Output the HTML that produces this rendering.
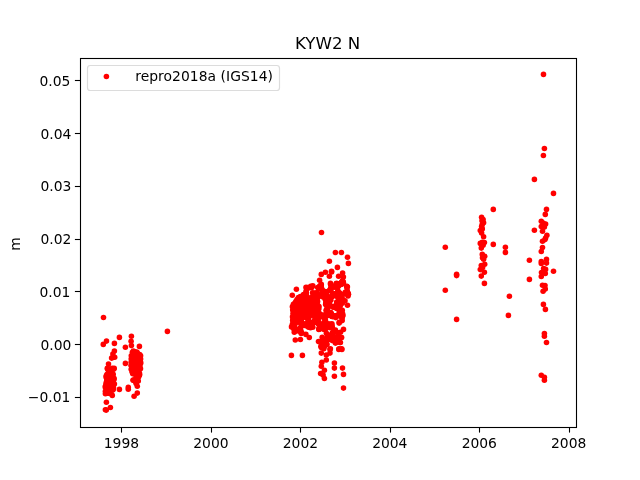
<!DOCTYPE html>
<html lang="en"><head><meta charset="utf-8"><title>KYW2 N</title>
<style>html,body{margin:0;padding:0;background:#fff;overflow:hidden}svg{display:block}text{font-family:'DejaVu Sans','Liberation Sans',sans-serif;fill:#000}</style></head>
<body>
<svg width="640" height="480" viewBox="0 0 640 480">
<rect width="640" height="480" fill="#fff"/>
<g stroke="#000" stroke-width="1.1">
<line x1="121.5" y1="427.5" x2="121.5" y2="432.6"/><line x1="211.5" y1="427.5" x2="211.5" y2="432.6"/><line x1="300.5" y1="427.5" x2="300.5" y2="432.6"/><line x1="390.5" y1="427.5" x2="390.5" y2="432.6"/><line x1="479.5" y1="427.5" x2="479.5" y2="432.6"/><line x1="569.5" y1="427.5" x2="569.5" y2="432.6"/><line x1="74.9" y1="80.5" x2="80.5" y2="80.5"/><line x1="74.9" y1="133.5" x2="80.5" y2="133.5"/><line x1="74.9" y1="186.5" x2="80.5" y2="186.5"/><line x1="74.9" y1="239.5" x2="80.5" y2="239.5"/><line x1="74.9" y1="291.5" x2="80.5" y2="291.5"/><line x1="74.9" y1="344.5" x2="80.5" y2="344.5"/><line x1="74.9" y1="397.5" x2="80.5" y2="397.5"/>
</g>
<g fill="#ff0000">
<circle cx="103.5" cy="317.5" r="2.78"/><circle cx="167.4" cy="331.4" r="2.78"/><circle cx="119.4" cy="337.4" r="2.78"/><circle cx="131.4" cy="336.3" r="2.78"/><circle cx="106.5" cy="341.1" r="2.78"/><circle cx="103.3" cy="344.4" r="2.78"/><circle cx="114.4" cy="343.4" r="2.78"/><circle cx="131.1" cy="341.2" r="2.78"/><circle cx="125.4" cy="347.3" r="2.78"/><circle cx="139.4" cy="346.4" r="2.78"/><circle cx="131.4" cy="345.6" r="2.78"/><circle cx="114.4" cy="351.0" r="2.78"/><circle cx="112.9" cy="354.0" r="2.78"/><circle cx="114.7" cy="357.3" r="2.78"/><circle cx="111.6" cy="358.1" r="2.78"/><circle cx="125.4" cy="363.4" r="2.78"/><circle cx="108.5" cy="364.1" r="2.78"/><circle cx="112.9" cy="357.5" r="2.78"/><circle cx="119.4" cy="389.4" r="2.78"/><circle cx="128.3" cy="387.4" r="2.78"/><circle cx="128.3" cy="389.2" r="2.78"/><circle cx="137.3" cy="386.3" r="2.78"/><circle cx="137.3" cy="393.1" r="2.78"/><circle cx="134.1" cy="396.3" r="2.78"/><circle cx="112.3" cy="395.4" r="2.78"/><circle cx="105.4" cy="393.8" r="2.78"/><circle cx="106.4" cy="402.3" r="2.78"/><circle cx="110.4" cy="407.5" r="2.78"/><circle cx="105.4" cy="409.8" r="2.78"/><circle cx="106.3" cy="410.1" r="2.78"/><circle cx="106.1" cy="390.7" r="2.78"/><circle cx="112.3" cy="375.0" r="2.78"/><circle cx="109.7" cy="380.2" r="2.78"/><circle cx="111.2" cy="389.2" r="2.78"/><circle cx="113.0" cy="379.7" r="2.78"/><circle cx="112.3" cy="368.3" r="2.78"/><circle cx="109.2" cy="387.4" r="2.78"/><circle cx="107.0" cy="393.3" r="2.78"/><circle cx="113.6" cy="369.0" r="2.78"/><circle cx="114.0" cy="378.3" r="2.78"/><circle cx="106.9" cy="379.4" r="2.78"/><circle cx="109.1" cy="381.4" r="2.78"/><circle cx="107.1" cy="374.3" r="2.78"/><circle cx="106.9" cy="380.4" r="2.78"/><circle cx="107.6" cy="368.8" r="2.78"/><circle cx="113.0" cy="383.0" r="2.78"/><circle cx="111.1" cy="373.1" r="2.78"/><circle cx="106.0" cy="377.0" r="2.78"/><circle cx="111.9" cy="387.1" r="2.78"/><circle cx="114.0" cy="379.4" r="2.78"/><circle cx="112.9" cy="386.0" r="2.78"/><circle cx="107.8" cy="383.8" r="2.78"/><circle cx="109.8" cy="383.9" r="2.78"/><circle cx="112.6" cy="379.2" r="2.78"/><circle cx="106.5" cy="382.8" r="2.78"/><circle cx="111.7" cy="386.1" r="2.78"/><circle cx="108.5" cy="379.9" r="2.78"/><circle cx="109.8" cy="388.9" r="2.78"/><circle cx="109.9" cy="378.7" r="2.78"/><circle cx="109.6" cy="369.0" r="2.78"/><circle cx="105.2" cy="386.9" r="2.78"/><circle cx="114.4" cy="384.0" r="2.78"/><circle cx="108.7" cy="372.7" r="2.78"/><circle cx="112.4" cy="382.6" r="2.78"/><circle cx="113.2" cy="374.4" r="2.78"/><circle cx="109.8" cy="393.5" r="2.78"/><circle cx="110.5" cy="380.4" r="2.78"/><circle cx="107.4" cy="382.8" r="2.78"/><circle cx="114.2" cy="368.4" r="2.78"/><circle cx="112.5" cy="390.0" r="2.78"/><circle cx="113.5" cy="387.9" r="2.78"/><circle cx="112.7" cy="382.0" r="2.78"/><circle cx="110.3" cy="379.5" r="2.78"/><circle cx="105.4" cy="391.3" r="2.78"/><circle cx="110.4" cy="373.5" r="2.78"/><circle cx="109.7" cy="381.1" r="2.78"/><circle cx="108.3" cy="377.4" r="2.78"/><circle cx="110.1" cy="384.8" r="2.78"/><circle cx="110.8" cy="380.4" r="2.78"/><circle cx="106.5" cy="383.7" r="2.78"/><circle cx="113.2" cy="389.4" r="2.78"/><circle cx="112.6" cy="389.9" r="2.78"/><circle cx="107.3" cy="390.6" r="2.78"/><circle cx="111.4" cy="370.4" r="2.78"/><circle cx="112.2" cy="374.8" r="2.78"/><circle cx="105.9" cy="384.8" r="2.78"/><circle cx="108.2" cy="370.0" r="2.78"/><circle cx="106.4" cy="382.2" r="2.78"/><circle cx="106.4" cy="375.5" r="2.78"/><circle cx="111.8" cy="380.3" r="2.78"/><circle cx="108.0" cy="380.8" r="2.78"/><circle cx="108.9" cy="373.2" r="2.78"/><circle cx="105.9" cy="392.1" r="2.78"/><circle cx="109.8" cy="373.8" r="2.78"/><circle cx="110.7" cy="389.9" r="2.78"/><circle cx="106.2" cy="387.3" r="2.78"/><circle cx="106.4" cy="386.9" r="2.78"/><circle cx="111.4" cy="382.7" r="2.78"/><circle cx="112.6" cy="381.9" r="2.78"/><circle cx="107.0" cy="385.5" r="2.78"/><circle cx="108.7" cy="383.5" r="2.78"/><circle cx="107.9" cy="385.0" r="2.78"/><circle cx="107.8" cy="391.0" r="2.78"/><circle cx="107.8" cy="393.2" r="2.78"/><circle cx="112.1" cy="379.3" r="2.78"/><circle cx="107.3" cy="368.4" r="2.78"/><circle cx="113.4" cy="369.2" r="2.78"/><circle cx="110.4" cy="372.8" r="2.78"/><circle cx="111.7" cy="381.7" r="2.78"/><circle cx="108.5" cy="377.4" r="2.78"/><circle cx="139.4" cy="375.2" r="2.78"/><circle cx="137.7" cy="360.7" r="2.78"/><circle cx="137.1" cy="370.9" r="2.78"/><circle cx="136.8" cy="355.7" r="2.78"/><circle cx="135.3" cy="363.6" r="2.78"/><circle cx="140.5" cy="368.7" r="2.78"/><circle cx="135.4" cy="359.4" r="2.78"/><circle cx="135.6" cy="361.1" r="2.78"/><circle cx="134.8" cy="380.5" r="2.78"/><circle cx="136.3" cy="369.3" r="2.78"/><circle cx="133.4" cy="351.1" r="2.78"/><circle cx="134.3" cy="354.9" r="2.78"/><circle cx="137.7" cy="356.5" r="2.78"/><circle cx="138.3" cy="381.0" r="2.78"/><circle cx="138.6" cy="377.1" r="2.78"/><circle cx="140.6" cy="355.8" r="2.78"/><circle cx="138.5" cy="374.5" r="2.78"/><circle cx="135.6" cy="368.3" r="2.78"/><circle cx="135.9" cy="381.7" r="2.78"/><circle cx="136.0" cy="378.5" r="2.78"/><circle cx="134.5" cy="380.2" r="2.78"/><circle cx="140.0" cy="365.9" r="2.78"/><circle cx="136.7" cy="381.5" r="2.78"/><circle cx="138.2" cy="366.8" r="2.78"/><circle cx="133.2" cy="361.3" r="2.78"/><circle cx="138.0" cy="355.9" r="2.78"/><circle cx="140.1" cy="359.4" r="2.78"/><circle cx="140.1" cy="360.8" r="2.78"/><circle cx="136.0" cy="367.9" r="2.78"/><circle cx="137.5" cy="370.2" r="2.78"/><circle cx="134.1" cy="357.3" r="2.78"/><circle cx="136.1" cy="382.0" r="2.78"/><circle cx="137.2" cy="352.9" r="2.78"/><circle cx="139.2" cy="374.9" r="2.78"/><circle cx="140.1" cy="356.8" r="2.78"/><circle cx="137.5" cy="359.6" r="2.78"/><circle cx="133.3" cy="380.0" r="2.78"/><circle cx="132.1" cy="368.0" r="2.78"/><circle cx="139.5" cy="358.6" r="2.78"/><circle cx="133.1" cy="380.2" r="2.78"/><circle cx="135.2" cy="374.6" r="2.78"/><circle cx="131.3" cy="362.6" r="2.78"/><circle cx="132.7" cy="373.1" r="2.78"/><circle cx="131.2" cy="359.0" r="2.78"/><circle cx="139.1" cy="355.6" r="2.78"/><circle cx="132.8" cy="373.7" r="2.78"/><circle cx="134.9" cy="351.8" r="2.78"/><circle cx="131.4" cy="362.0" r="2.78"/><circle cx="137.2" cy="375.5" r="2.78"/><circle cx="132.1" cy="361.7" r="2.78"/><circle cx="131.3" cy="365.5" r="2.78"/><circle cx="138.7" cy="375.4" r="2.78"/><circle cx="139.6" cy="374.2" r="2.78"/><circle cx="135.7" cy="357.9" r="2.78"/><circle cx="137.6" cy="361.0" r="2.78"/><circle cx="132.0" cy="365.5" r="2.78"/><circle cx="139.7" cy="354.6" r="2.78"/><circle cx="136.8" cy="363.6" r="2.78"/><circle cx="136.1" cy="355.2" r="2.78"/><circle cx="140.6" cy="359.1" r="2.78"/><circle cx="137.1" cy="364.5" r="2.78"/><circle cx="131.2" cy="369.2" r="2.78"/><circle cx="132.4" cy="352.2" r="2.78"/><circle cx="131.3" cy="355.8" r="2.78"/><circle cx="132.0" cy="371.8" r="2.78"/><circle cx="136.1" cy="383.6" r="2.78"/><circle cx="133.3" cy="365.4" r="2.78"/><circle cx="133.5" cy="370.3" r="2.78"/><circle cx="137.2" cy="377.4" r="2.78"/><circle cx="138.1" cy="359.0" r="2.78"/><circle cx="135.2" cy="368.1" r="2.78"/><circle cx="135.1" cy="354.1" r="2.78"/><circle cx="138.2" cy="358.5" r="2.78"/><circle cx="132.0" cy="356.5" r="2.78"/><circle cx="133.3" cy="357.7" r="2.78"/><circle cx="136.2" cy="366.0" r="2.78"/><circle cx="134.1" cy="372.1" r="2.78"/><circle cx="135.3" cy="367.6" r="2.78"/><circle cx="136.8" cy="352.0" r="2.78"/><circle cx="135.2" cy="368.1" r="2.78"/><circle cx="132.8" cy="353.5" r="2.78"/><circle cx="139.0" cy="362.7" r="2.78"/><circle cx="136.2" cy="381.5" r="2.78"/><circle cx="137.1" cy="360.1" r="2.78"/><circle cx="140.8" cy="362.9" r="2.78"/><circle cx="132.0" cy="360.7" r="2.78"/><circle cx="139.4" cy="373.1" r="2.78"/><circle cx="131.2" cy="365.6" r="2.78"/><circle cx="135.1" cy="366.8" r="2.78"/><circle cx="133.1" cy="370.3" r="2.78"/><circle cx="310.7" cy="286.2" r="2.78"/><circle cx="312.8" cy="285.7" r="2.78"/><circle cx="306.0" cy="287.4" r="2.78"/><circle cx="307.4" cy="287.5" r="2.78"/><circle cx="310.0" cy="287.7" r="2.78"/><circle cx="311.8" cy="287.6" r="2.78"/><circle cx="317.7" cy="287.6" r="2.78"/><circle cx="306.8" cy="289.2" r="2.78"/><circle cx="306.0" cy="291.2" r="2.78"/><circle cx="306.4" cy="293.1" r="2.78"/><circle cx="312.6" cy="292.7" r="2.78"/><circle cx="314.6" cy="293.1" r="2.78"/><circle cx="317.0" cy="292.6" r="2.78"/><circle cx="303.5" cy="294.6" r="2.78"/><circle cx="305.8" cy="294.4" r="2.78"/><circle cx="313.4" cy="294.9" r="2.78"/><circle cx="315.6" cy="295.0" r="2.78"/><circle cx="318.0" cy="294.6" r="2.78"/><circle cx="300.4" cy="296.5" r="2.78"/><circle cx="302.8" cy="296.1" r="2.78"/><circle cx="304.8" cy="296.4" r="2.78"/><circle cx="306.8" cy="296.3" r="2.78"/><circle cx="312.8" cy="296.6" r="2.78"/><circle cx="314.4" cy="296.1" r="2.78"/><circle cx="316.8" cy="296.7" r="2.78"/><circle cx="318.5" cy="296.4" r="2.78"/><circle cx="299.8" cy="297.8" r="2.78"/><circle cx="301.6" cy="298.0" r="2.78"/><circle cx="303.9" cy="298.1" r="2.78"/><circle cx="305.9" cy="297.9" r="2.78"/><circle cx="307.6" cy="298.2" r="2.78"/><circle cx="310.0" cy="298.1" r="2.78"/><circle cx="311.5" cy="297.9" r="2.78"/><circle cx="313.7" cy="297.9" r="2.78"/><circle cx="315.9" cy="298.4" r="2.78"/><circle cx="317.5" cy="298.0" r="2.78"/><circle cx="297.0" cy="299.6" r="2.78"/><circle cx="298.4" cy="300.2" r="2.78"/><circle cx="301.0" cy="300.2" r="2.78"/><circle cx="302.7" cy="300.2" r="2.78"/><circle cx="305.0" cy="299.7" r="2.78"/><circle cx="306.9" cy="300.1" r="2.78"/><circle cx="308.8" cy="299.9" r="2.78"/><circle cx="310.6" cy="299.7" r="2.78"/><circle cx="312.5" cy="299.5" r="2.78"/><circle cx="314.8" cy="299.7" r="2.78"/><circle cx="316.9" cy="299.5" r="2.78"/><circle cx="295.8" cy="301.5" r="2.78"/><circle cx="297.5" cy="301.8" r="2.78"/><circle cx="299.7" cy="301.8" r="2.78"/><circle cx="301.6" cy="301.4" r="2.78"/><circle cx="303.7" cy="301.8" r="2.78"/><circle cx="305.5" cy="301.8" r="2.78"/><circle cx="308.0" cy="301.8" r="2.78"/><circle cx="309.9" cy="301.2" r="2.78"/><circle cx="311.8" cy="301.8" r="2.78"/><circle cx="313.4" cy="301.4" r="2.78"/><circle cx="315.5" cy="301.6" r="2.78"/><circle cx="317.6" cy="301.6" r="2.78"/><circle cx="294.8" cy="303.2" r="2.78"/><circle cx="296.5" cy="303.2" r="2.78"/><circle cx="298.4" cy="303.4" r="2.78"/><circle cx="300.9" cy="303.2" r="2.78"/><circle cx="302.4" cy="303.1" r="2.78"/><circle cx="304.6" cy="303.4" r="2.78"/><circle cx="306.9" cy="303.2" r="2.78"/><circle cx="308.9" cy="303.4" r="2.78"/><circle cx="310.7" cy="303.2" r="2.78"/><circle cx="312.7" cy="303.5" r="2.78"/><circle cx="314.6" cy="303.5" r="2.78"/><circle cx="316.7" cy="303.1" r="2.78"/><circle cx="293.5" cy="305.0" r="2.78"/><circle cx="295.4" cy="305.3" r="2.78"/><circle cx="297.8" cy="305.3" r="2.78"/><circle cx="299.9" cy="305.2" r="2.78"/><circle cx="301.9" cy="305.1" r="2.78"/><circle cx="303.4" cy="305.1" r="2.78"/><circle cx="305.4" cy="304.8" r="2.78"/><circle cx="307.9" cy="304.7" r="2.78"/><circle cx="309.4" cy="304.8" r="2.78"/><circle cx="312.0" cy="304.8" r="2.78"/><circle cx="313.4" cy="305.3" r="2.78"/><circle cx="315.4" cy="305.3" r="2.78"/><circle cx="317.8" cy="305.3" r="2.78"/><circle cx="292.4" cy="306.7" r="2.78"/><circle cx="294.7" cy="307.0" r="2.78"/><circle cx="296.5" cy="306.6" r="2.78"/><circle cx="298.5" cy="306.9" r="2.78"/><circle cx="300.9" cy="306.7" r="2.78"/><circle cx="302.6" cy="306.7" r="2.78"/><circle cx="304.6" cy="306.7" r="2.78"/><circle cx="306.4" cy="306.8" r="2.78"/><circle cx="309.0" cy="306.7" r="2.78"/><circle cx="310.9" cy="306.5" r="2.78"/><circle cx="312.8" cy="307.0" r="2.78"/><circle cx="314.8" cy="306.8" r="2.78"/><circle cx="316.7" cy="306.9" r="2.78"/><circle cx="319.0" cy="306.5" r="2.78"/><circle cx="293.8" cy="308.8" r="2.78"/><circle cx="295.6" cy="308.7" r="2.78"/><circle cx="297.6" cy="308.8" r="2.78"/><circle cx="299.8" cy="308.3" r="2.78"/><circle cx="301.5" cy="308.2" r="2.78"/><circle cx="303.7" cy="308.4" r="2.78"/><circle cx="305.5" cy="308.4" r="2.78"/><circle cx="307.6" cy="308.7" r="2.78"/><circle cx="309.5" cy="308.9" r="2.78"/><circle cx="311.7" cy="308.6" r="2.78"/><circle cx="313.7" cy="308.7" r="2.78"/><circle cx="315.9" cy="308.6" r="2.78"/><circle cx="317.7" cy="308.7" r="2.78"/><circle cx="292.7" cy="310.1" r="2.78"/><circle cx="294.5" cy="310.4" r="2.78"/><circle cx="296.8" cy="310.6" r="2.78"/><circle cx="298.9" cy="310.1" r="2.78"/><circle cx="300.5" cy="310.1" r="2.78"/><circle cx="302.5" cy="310.4" r="2.78"/><circle cx="305.0" cy="310.5" r="2.78"/><circle cx="306.5" cy="310.5" r="2.78"/><circle cx="308.6" cy="310.2" r="2.78"/><circle cx="310.9" cy="310.0" r="2.78"/><circle cx="312.4" cy="310.5" r="2.78"/><circle cx="314.6" cy="310.1" r="2.78"/><circle cx="316.8" cy="310.4" r="2.78"/><circle cx="318.4" cy="310.1" r="2.78"/><circle cx="293.7" cy="311.7" r="2.78"/><circle cx="295.5" cy="312.1" r="2.78"/><circle cx="297.4" cy="312.2" r="2.78"/><circle cx="300.0" cy="311.7" r="2.78"/><circle cx="302.0" cy="311.9" r="2.78"/><circle cx="303.9" cy="312.2" r="2.78"/><circle cx="305.6" cy="312.1" r="2.78"/><circle cx="307.8" cy="312.2" r="2.78"/><circle cx="309.5" cy="312.2" r="2.78"/><circle cx="312.0" cy="312.1" r="2.78"/><circle cx="313.7" cy="311.7" r="2.78"/><circle cx="315.7" cy="311.9" r="2.78"/><circle cx="317.9" cy="312.1" r="2.78"/><circle cx="293.0" cy="313.5" r="2.78"/><circle cx="294.6" cy="313.9" r="2.78"/><circle cx="296.8" cy="313.7" r="2.78"/><circle cx="298.8" cy="313.7" r="2.78"/><circle cx="300.6" cy="313.5" r="2.78"/><circle cx="302.4" cy="313.9" r="2.78"/><circle cx="304.9" cy="313.7" r="2.78"/><circle cx="306.9" cy="313.6" r="2.78"/><circle cx="308.5" cy="313.6" r="2.78"/><circle cx="311.0" cy="313.4" r="2.78"/><circle cx="312.7" cy="313.5" r="2.78"/><circle cx="314.9" cy="313.6" r="2.78"/><circle cx="316.6" cy="313.6" r="2.78"/><circle cx="318.7" cy="313.9" r="2.78"/><circle cx="293.8" cy="315.2" r="2.78"/><circle cx="295.6" cy="315.2" r="2.78"/><circle cx="297.7" cy="315.5" r="2.78"/><circle cx="299.5" cy="315.3" r="2.78"/><circle cx="301.9" cy="315.1" r="2.78"/><circle cx="303.9" cy="315.7" r="2.78"/><circle cx="306.0" cy="315.4" r="2.78"/><circle cx="307.7" cy="315.5" r="2.78"/><circle cx="309.8" cy="315.8" r="2.78"/><circle cx="313.8" cy="315.3" r="2.78"/><circle cx="316.0" cy="315.4" r="2.78"/><circle cx="317.8" cy="315.6" r="2.78"/><circle cx="319.4" cy="315.6" r="2.78"/><circle cx="292.5" cy="316.9" r="2.78"/><circle cx="294.7" cy="317.5" r="2.78"/><circle cx="296.6" cy="317.4" r="2.78"/><circle cx="298.8" cy="316.9" r="2.78"/><circle cx="301.0" cy="317.2" r="2.78"/><circle cx="303.0" cy="317.3" r="2.78"/><circle cx="304.9" cy="317.1" r="2.78"/><circle cx="306.9" cy="317.5" r="2.78"/><circle cx="309.0" cy="317.1" r="2.78"/><circle cx="314.9" cy="317.2" r="2.78"/><circle cx="316.4" cy="316.9" r="2.78"/><circle cx="318.4" cy="317.0" r="2.78"/><circle cx="293.6" cy="318.9" r="2.78"/><circle cx="295.9" cy="318.8" r="2.78"/><circle cx="297.5" cy="319.2" r="2.78"/><circle cx="299.9" cy="318.8" r="2.78"/><circle cx="301.6" cy="318.9" r="2.78"/><circle cx="307.8" cy="318.7" r="2.78"/><circle cx="315.4" cy="318.7" r="2.78"/><circle cx="317.9" cy="318.7" r="2.78"/><circle cx="292.7" cy="320.4" r="2.78"/><circle cx="294.5" cy="320.4" r="2.78"/><circle cx="296.6" cy="320.4" r="2.78"/><circle cx="298.4" cy="320.4" r="2.78"/><circle cx="300.5" cy="320.6" r="2.78"/><circle cx="308.4" cy="320.3" r="2.78"/><circle cx="314.7" cy="320.6" r="2.78"/><circle cx="316.8" cy="320.3" r="2.78"/><circle cx="293.4" cy="322.7" r="2.78"/><circle cx="295.5" cy="322.1" r="2.78"/><circle cx="297.7" cy="322.1" r="2.78"/><circle cx="299.8" cy="322.3" r="2.78"/><circle cx="301.4" cy="322.1" r="2.78"/><circle cx="307.9" cy="322.2" r="2.78"/><circle cx="309.9" cy="322.3" r="2.78"/><circle cx="312.0" cy="322.2" r="2.78"/><circle cx="313.5" cy="322.2" r="2.78"/><circle cx="315.9" cy="322.5" r="2.78"/><circle cx="317.6" cy="322.1" r="2.78"/><circle cx="292.4" cy="324.2" r="2.78"/><circle cx="295.0" cy="323.9" r="2.78"/><circle cx="301.0" cy="324.1" r="2.78"/><circle cx="302.9" cy="324.4" r="2.78"/><circle cx="305.0" cy="323.8" r="2.78"/><circle cx="306.6" cy="324.2" r="2.78"/><circle cx="309.0" cy="323.8" r="2.78"/><circle cx="310.6" cy="324.3" r="2.78"/><circle cx="312.4" cy="324.0" r="2.78"/><circle cx="318.6" cy="324.2" r="2.78"/><circle cx="293.5" cy="325.6" r="2.78"/><circle cx="301.9" cy="325.9" r="2.78"/><circle cx="305.8" cy="325.8" r="2.78"/><circle cx="307.7" cy="325.6" r="2.78"/><circle cx="309.8" cy="325.5" r="2.78"/><circle cx="311.7" cy="326.0" r="2.78"/><circle cx="293.0" cy="327.3" r="2.78"/><circle cx="294.7" cy="327.3" r="2.78"/><circle cx="300.4" cy="327.7" r="2.78"/><circle cx="308.5" cy="327.2" r="2.78"/><circle cx="310.5" cy="327.7" r="2.78"/><circle cx="312.8" cy="327.2" r="2.78"/><circle cx="293.9" cy="329.0" r="2.78"/><circle cx="295.4" cy="329.6" r="2.78"/><circle cx="297.5" cy="329.6" r="2.78"/><circle cx="299.4" cy="329.3" r="2.78"/><circle cx="294.6" cy="331.1" r="2.78"/><circle cx="296.7" cy="330.8" r="2.78"/><circle cx="298.9" cy="331.1" r="2.78"/><circle cx="300.9" cy="330.8" r="2.78"/><circle cx="301.7" cy="332.7" r="2.78"/><circle cx="335.1" cy="294.2" r="2.78"/><circle cx="339.2" cy="303.5" r="2.78"/><circle cx="342.9" cy="282.4" r="2.78"/><circle cx="345.0" cy="300.8" r="2.78"/><circle cx="339.3" cy="310.0" r="2.78"/><circle cx="337.0" cy="302.6" r="2.78"/><circle cx="331.6" cy="316.2" r="2.78"/><circle cx="337.7" cy="308.0" r="2.78"/><circle cx="324.1" cy="291.3" r="2.78"/><circle cx="326.5" cy="304.9" r="2.78"/><circle cx="334.6" cy="293.9" r="2.78"/><circle cx="326.1" cy="323.7" r="2.78"/><circle cx="337.0" cy="307.9" r="2.78"/><circle cx="341.6" cy="282.8" r="2.78"/><circle cx="342.8" cy="281.7" r="2.78"/><circle cx="330.0" cy="324.8" r="2.78"/><circle cx="341.8" cy="316.9" r="2.78"/><circle cx="339.5" cy="300.1" r="2.78"/><circle cx="341.0" cy="312.5" r="2.78"/><circle cx="324.1" cy="292.5" r="2.78"/><circle cx="342.3" cy="310.4" r="2.78"/><circle cx="325.6" cy="304.4" r="2.78"/><circle cx="346.8" cy="286.6" r="2.78"/><circle cx="330.8" cy="315.5" r="2.78"/><circle cx="328.7" cy="314.6" r="2.78"/><circle cx="319.7" cy="326.1" r="2.78"/><circle cx="336.9" cy="284.8" r="2.78"/><circle cx="338.4" cy="297.6" r="2.78"/><circle cx="343.4" cy="282.5" r="2.78"/><circle cx="330.9" cy="290.2" r="2.78"/><circle cx="332.3" cy="315.9" r="2.78"/><circle cx="340.1" cy="304.6" r="2.78"/><circle cx="328.4" cy="302.7" r="2.78"/><circle cx="338.8" cy="301.7" r="2.78"/><circle cx="328.6" cy="303.8" r="2.78"/><circle cx="320.8" cy="326.9" r="2.78"/><circle cx="331.0" cy="325.4" r="2.78"/><circle cx="337.3" cy="303.5" r="2.78"/><circle cx="325.8" cy="302.2" r="2.78"/><circle cx="327.3" cy="312.6" r="2.78"/><circle cx="319.6" cy="325.7" r="2.78"/><circle cx="324.2" cy="297.1" r="2.78"/><circle cx="336.2" cy="316.7" r="2.78"/><circle cx="319.7" cy="314.8" r="2.78"/><circle cx="325.7" cy="327.1" r="2.78"/><circle cx="338.8" cy="307.6" r="2.78"/><circle cx="339.1" cy="302.3" r="2.78"/><circle cx="326.9" cy="308.7" r="2.78"/><circle cx="324.9" cy="319.3" r="2.78"/><circle cx="328.1" cy="314.9" r="2.78"/><circle cx="327.5" cy="302.2" r="2.78"/><circle cx="327.4" cy="314.1" r="2.78"/><circle cx="331.9" cy="326.7" r="2.78"/><circle cx="339.0" cy="306.2" r="2.78"/><circle cx="330.8" cy="312.6" r="2.78"/><circle cx="340.9" cy="298.1" r="2.78"/><circle cx="331.8" cy="325.1" r="2.78"/><circle cx="327.1" cy="297.4" r="2.78"/><circle cx="326.1" cy="294.6" r="2.78"/><circle cx="319.7" cy="286.0" r="2.78"/><circle cx="325.6" cy="327.5" r="2.78"/><circle cx="338.3" cy="305.1" r="2.78"/><circle cx="324.6" cy="291.9" r="2.78"/><circle cx="325.4" cy="328.5" r="2.78"/><circle cx="324.7" cy="329.0" r="2.78"/><circle cx="330.7" cy="325.2" r="2.78"/><circle cx="329.4" cy="301.3" r="2.78"/><circle cx="325.2" cy="299.2" r="2.78"/><circle cx="326.1" cy="310.2" r="2.78"/><circle cx="337.9" cy="305.4" r="2.78"/><circle cx="341.8" cy="282.1" r="2.78"/><circle cx="337.2" cy="285.3" r="2.78"/><circle cx="328.8" cy="304.4" r="2.78"/><circle cx="322.1" cy="327.9" r="2.78"/><circle cx="338.9" cy="296.1" r="2.78"/><circle cx="321.3" cy="285.9" r="2.78"/><circle cx="328.7" cy="297.3" r="2.78"/><circle cx="318.9" cy="328.7" r="2.78"/><circle cx="322.7" cy="294.8" r="2.78"/><circle cx="327.6" cy="308.4" r="2.78"/><circle cx="340.0" cy="314.6" r="2.78"/><circle cx="325.7" cy="326.2" r="2.78"/><circle cx="342.4" cy="303.1" r="2.78"/><circle cx="348.4" cy="294.3" r="2.78"/><circle cx="335.5" cy="307.8" r="2.78"/><circle cx="340.0" cy="304.9" r="2.78"/><circle cx="342.6" cy="316.0" r="2.78"/><circle cx="339.8" cy="300.9" r="2.78"/><circle cx="325.2" cy="295.9" r="2.78"/><circle cx="348.4" cy="294.3" r="2.78"/><circle cx="335.8" cy="306.3" r="2.78"/><circle cx="332.3" cy="306.6" r="2.78"/><circle cx="346.6" cy="292.8" r="2.78"/><circle cx="339.1" cy="285.5" r="2.78"/><circle cx="346.8" cy="286.2" r="2.78"/><circle cx="318.9" cy="322.4" r="2.78"/><circle cx="348.0" cy="296.0" r="2.78"/><circle cx="319.7" cy="327.8" r="2.78"/><circle cx="322.6" cy="292.1" r="2.78"/><circle cx="339.5" cy="292.8" r="2.78"/><circle cx="330.9" cy="314.7" r="2.78"/><circle cx="341.9" cy="303.0" r="2.78"/><circle cx="339.6" cy="312.6" r="2.78"/><circle cx="341.1" cy="302.1" r="2.78"/><circle cx="330.3" cy="313.4" r="2.78"/><circle cx="342.7" cy="314.0" r="2.78"/><circle cx="322.7" cy="293.9" r="2.78"/><circle cx="322.6" cy="325.1" r="2.78"/><circle cx="332.8" cy="316.7" r="2.78"/><circle cx="330.5" cy="289.0" r="2.78"/><circle cx="338.1" cy="304.0" r="2.78"/><circle cx="331.4" cy="314.1" r="2.78"/><circle cx="329.9" cy="327.6" r="2.78"/><circle cx="336.3" cy="305.0" r="2.78"/><circle cx="335.2" cy="315.8" r="2.78"/><circle cx="337.0" cy="295.9" r="2.78"/><circle cx="328.1" cy="305.9" r="2.78"/><circle cx="347.3" cy="293.4" r="2.78"/><circle cx="323.9" cy="325.2" r="2.78"/><circle cx="336.4" cy="283.8" r="2.78"/><circle cx="334.6" cy="294.2" r="2.78"/><circle cx="331.9" cy="323.8" r="2.78"/><circle cx="319.1" cy="313.0" r="2.78"/><circle cx="320.3" cy="325.7" r="2.78"/><circle cx="328.4" cy="301.5" r="2.78"/><circle cx="325.2" cy="325.5" r="2.78"/><circle cx="327.7" cy="325.3" r="2.78"/><circle cx="340.1" cy="312.8" r="2.78"/><circle cx="327.5" cy="323.8" r="2.78"/><circle cx="338.4" cy="284.7" r="2.78"/><circle cx="342.1" cy="282.9" r="2.78"/><circle cx="325.1" cy="315.6" r="2.78"/><circle cx="341.3" cy="303.1" r="2.78"/><circle cx="347.0" cy="291.2" r="2.78"/><circle cx="340.4" cy="304.4" r="2.78"/><circle cx="323.7" cy="323.1" r="2.78"/><circle cx="327.2" cy="301.0" r="2.78"/><circle cx="325.2" cy="322.1" r="2.78"/><circle cx="335.2" cy="307.3" r="2.78"/><circle cx="326.2" cy="313.2" r="2.78"/><circle cx="324.8" cy="296.1" r="2.78"/><circle cx="322.8" cy="295.3" r="2.78"/><circle cx="320.2" cy="326.5" r="2.78"/><circle cx="347.9" cy="294.7" r="2.78"/><circle cx="320.7" cy="287.6" r="2.78"/><circle cx="340.1" cy="284.3" r="2.78"/><circle cx="323.0" cy="294.0" r="2.78"/><circle cx="336.8" cy="315.7" r="2.78"/><circle cx="334.1" cy="286.9" r="2.78"/><circle cx="341.4" cy="315.4" r="2.78"/><circle cx="326.7" cy="326.2" r="2.78"/><circle cx="322.9" cy="327.3" r="2.78"/><circle cx="330.6" cy="284.4" r="2.78"/><circle cx="329.5" cy="298.8" r="2.78"/><circle cx="339.9" cy="298.0" r="2.78"/><circle cx="326.1" cy="327.5" r="2.78"/><circle cx="326.3" cy="316.3" r="2.78"/><circle cx="323.9" cy="326.7" r="2.78"/><circle cx="324.1" cy="317.5" r="2.78"/><circle cx="338.4" cy="303.8" r="2.78"/><circle cx="330.8" cy="315.6" r="2.78"/><circle cx="341.5" cy="283.9" r="2.78"/><circle cx="326.8" cy="297.0" r="2.78"/><circle cx="336.4" cy="295.6" r="2.78"/><circle cx="347.4" cy="287.1" r="2.78"/><circle cx="337.1" cy="284.2" r="2.78"/><circle cx="340.0" cy="304.0" r="2.78"/><circle cx="318.8" cy="288.6" r="2.78"/><circle cx="337.8" cy="292.1" r="2.78"/><circle cx="324.7" cy="297.2" r="2.78"/><circle cx="325.5" cy="293.7" r="2.78"/><circle cx="329.2" cy="302.3" r="2.78"/><circle cx="329.7" cy="290.0" r="2.78"/><circle cx="326.4" cy="301.0" r="2.78"/><circle cx="332.1" cy="296.2" r="2.78"/><circle cx="346.7" cy="287.1" r="2.78"/><circle cx="319.5" cy="329.2" r="2.78"/><circle cx="342.5" cy="299.1" r="2.78"/><circle cx="321.7" cy="327.4" r="2.78"/><circle cx="335.5" cy="286.6" r="2.78"/><circle cx="321.4" cy="315.0" r="2.78"/><circle cx="329.7" cy="304.8" r="2.78"/><circle cx="326.7" cy="310.6" r="2.78"/><circle cx="331.2" cy="315.5" r="2.78"/><circle cx="322.3" cy="316.2" r="2.78"/><circle cx="325.3" cy="326.3" r="2.78"/><circle cx="325.5" cy="295.3" r="2.78"/><circle cx="326.9" cy="303.8" r="2.78"/><circle cx="318.8" cy="308.8" r="2.78"/><circle cx="320.7" cy="315.4" r="2.78"/><circle cx="334.9" cy="315.8" r="2.78"/><circle cx="327.5" cy="296.9" r="2.78"/><circle cx="338.7" cy="294.4" r="2.78"/><circle cx="339.3" cy="322.3" r="2.78"/><circle cx="322.4" cy="296.7" r="2.78"/><circle cx="326.1" cy="314.3" r="2.78"/><circle cx="330.3" cy="290.7" r="2.78"/><circle cx="323.7" cy="294.8" r="2.78"/><circle cx="338.5" cy="303.3" r="2.78"/><circle cx="339.9" cy="299.4" r="2.78"/><circle cx="335.8" cy="317.6" r="2.78"/><circle cx="340.4" cy="314.7" r="2.78"/><circle cx="342.0" cy="317.6" r="2.78"/><circle cx="325.5" cy="327.7" r="2.78"/><circle cx="342.9" cy="282.1" r="2.78"/><circle cx="334.3" cy="295.7" r="2.78"/><circle cx="337.3" cy="302.1" r="2.78"/><circle cx="319.6" cy="325.0" r="2.78"/><circle cx="337.3" cy="302.4" r="2.78"/><circle cx="326.4" cy="299.0" r="2.78"/><circle cx="327.0" cy="325.4" r="2.78"/><circle cx="327.4" cy="326.8" r="2.78"/><circle cx="331.5" cy="297.1" r="2.78"/><circle cx="323.1" cy="328.8" r="2.78"/><circle cx="340.2" cy="313.4" r="2.78"/><circle cx="331.5" cy="297.1" r="2.78"/><circle cx="322.4" cy="290.9" r="2.78"/><circle cx="326.1" cy="328.5" r="2.78"/><circle cx="322.0" cy="295.4" r="2.78"/><circle cx="325.4" cy="324.5" r="2.78"/><circle cx="341.6" cy="284.2" r="2.78"/><circle cx="330.8" cy="287.7" r="2.78"/><circle cx="322.0" cy="289.3" r="2.78"/><circle cx="342.2" cy="281.6" r="2.78"/><circle cx="341.3" cy="284.1" r="2.78"/><circle cx="339.8" cy="304.1" r="2.78"/><circle cx="325.8" cy="323.1" r="2.78"/><circle cx="320.8" cy="327.4" r="2.78"/><circle cx="325.2" cy="321.1" r="2.78"/><circle cx="337.6" cy="305.6" r="2.78"/><circle cx="329.4" cy="324.6" r="2.78"/><circle cx="348.1" cy="293.0" r="2.78"/><circle cx="339.3" cy="312.6" r="2.78"/><circle cx="320.7" cy="295.1" r="2.78"/><circle cx="331.9" cy="326.5" r="2.78"/><circle cx="323.0" cy="295.8" r="2.78"/><circle cx="342.0" cy="317.8" r="2.78"/><circle cx="322.9" cy="315.2" r="2.78"/><circle cx="336.3" cy="283.8" r="2.78"/><circle cx="322.5" cy="295.0" r="2.78"/><circle cx="328.7" cy="303.0" r="2.78"/><circle cx="325.5" cy="320.8" r="2.78"/><circle cx="337.6" cy="307.9" r="2.78"/><circle cx="326.5" cy="324.1" r="2.78"/><circle cx="342.8" cy="315.6" r="2.78"/><circle cx="320.3" cy="314.5" r="2.78"/><circle cx="338.0" cy="285.9" r="2.78"/><circle cx="338.0" cy="286.8" r="2.78"/><circle cx="324.3" cy="326.8" r="2.78"/><circle cx="338.8" cy="301.7" r="2.78"/><circle cx="329.7" cy="297.9" r="2.78"/><circle cx="341.2" cy="283.3" r="2.78"/><circle cx="336.3" cy="304.9" r="2.78"/><circle cx="335.9" cy="307.6" r="2.78"/><circle cx="339.4" cy="299.6" r="2.78"/><circle cx="339.2" cy="293.5" r="2.78"/><circle cx="329.6" cy="324.0" r="2.78"/><circle cx="339.3" cy="297.9" r="2.78"/><circle cx="330.8" cy="300.2" r="2.78"/><circle cx="337.9" cy="290.8" r="2.78"/><circle cx="325.1" cy="317.1" r="2.78"/><circle cx="339.9" cy="303.0" r="2.78"/><circle cx="339.5" cy="305.7" r="2.78"/><circle cx="336.5" cy="294.0" r="2.78"/><circle cx="339.0" cy="306.8" r="2.78"/><circle cx="326.7" cy="291.8" r="2.78"/><circle cx="336.7" cy="296.0" r="2.78"/><circle cx="330.6" cy="315.4" r="2.78"/><circle cx="320.7" cy="285.5" r="2.78"/><circle cx="336.9" cy="302.0" r="2.78"/><circle cx="335.9" cy="295.6" r="2.78"/><circle cx="331.1" cy="296.8" r="2.78"/><circle cx="330.3" cy="314.4" r="2.78"/><circle cx="338.3" cy="293.8" r="2.78"/><circle cx="327.6" cy="299.8" r="2.78"/><circle cx="332.9" cy="307.1" r="2.78"/><circle cx="328.3" cy="312.7" r="2.78"/><circle cx="327.8" cy="300.5" r="2.78"/><circle cx="326.8" cy="295.8" r="2.78"/><circle cx="319.2" cy="288.8" r="2.78"/><circle cx="330.8" cy="313.1" r="2.78"/><circle cx="331.8" cy="287.3" r="2.78"/><circle cx="341.3" cy="283.5" r="2.78"/><circle cx="320.3" cy="316.5" r="2.78"/><circle cx="335.0" cy="287.1" r="2.78"/><circle cx="339.0" cy="283.7" r="2.78"/><circle cx="325.2" cy="294.9" r="2.78"/><circle cx="337.7" cy="284.6" r="2.78"/><circle cx="325.9" cy="292.2" r="2.78"/><circle cx="318.8" cy="295.6" r="2.78"/><circle cx="339.2" cy="306.6" r="2.78"/><circle cx="331.4" cy="297.0" r="2.78"/><circle cx="320.3" cy="317.1" r="2.78"/><circle cx="337.6" cy="293.1" r="2.78"/><circle cx="347.2" cy="290.8" r="2.78"/><circle cx="337.0" cy="308.4" r="2.78"/><circle cx="332.5" cy="293.9" r="2.78"/><circle cx="323.3" cy="326.5" r="2.78"/><circle cx="339.9" cy="307.0" r="2.78"/><circle cx="336.2" cy="285.0" r="2.78"/><circle cx="321.5" cy="232.5" r="2.78"/><circle cx="335.4" cy="252.5" r="2.78"/><circle cx="341.4" cy="252.5" r="2.78"/><circle cx="347.5" cy="257.3" r="2.78"/><circle cx="329.4" cy="261.3" r="2.78"/><circle cx="348.4" cy="263.4" r="2.78"/><circle cx="337.4" cy="267.4" r="2.78"/><circle cx="331.5" cy="271.3" r="2.78"/><circle cx="325.4" cy="272.2" r="2.78"/><circle cx="321.3" cy="274.4" r="2.78"/><circle cx="329.4" cy="276.3" r="2.78"/><circle cx="342.6" cy="273.1" r="2.78"/><circle cx="338.6" cy="276.3" r="2.78"/><circle cx="343.4" cy="277.1" r="2.78"/><circle cx="331.6" cy="271.9" r="2.78"/><circle cx="319.6" cy="280.3" r="2.78"/><circle cx="321.3" cy="284.4" r="2.78"/><circle cx="330.5" cy="283.4" r="2.78"/><circle cx="342.6" cy="280.6" r="2.78"/><circle cx="340.7" cy="283.4" r="2.78"/><circle cx="336.6" cy="283.4" r="2.78"/><circle cx="296.4" cy="289.3" r="2.78"/><circle cx="292.3" cy="295.3" r="2.78"/><circle cx="347.5" cy="305.3" r="2.78"/><circle cx="343.5" cy="329.4" r="2.78"/><circle cx="339.1" cy="323.1" r="2.78"/><circle cx="342.2" cy="320.6" r="2.78"/><circle cx="335.4" cy="330.0" r="2.78"/><circle cx="298.4" cy="297.5" r="2.78"/><circle cx="293.4" cy="304.4" r="2.78"/><circle cx="291.5" cy="326.9" r="2.78"/><circle cx="291.4" cy="355.4" r="2.78"/><circle cx="302.4" cy="355.4" r="2.78"/><circle cx="295.3" cy="340.0" r="2.78"/><circle cx="300.4" cy="339.5" r="2.78"/><circle cx="309.3" cy="337.5" r="2.78"/><circle cx="305.9" cy="334.4" r="2.78"/><circle cx="301.2" cy="333.4" r="2.78"/><circle cx="294.3" cy="332.2" r="2.78"/><circle cx="318.5" cy="341.6" r="2.78"/><circle cx="322.2" cy="337.3" r="2.78"/><circle cx="320.9" cy="346.3" r="2.78"/><circle cx="323.1" cy="342.5" r="2.78"/><circle cx="326.9" cy="344.4" r="2.78"/><circle cx="321.3" cy="347.5" r="2.78"/><circle cx="323.8" cy="348.8" r="2.78"/><circle cx="330.0" cy="349.4" r="2.78"/><circle cx="321.3" cy="353.1" r="2.78"/><circle cx="330.0" cy="353.1" r="2.78"/><circle cx="326.3" cy="355.0" r="2.78"/><circle cx="326.3" cy="360.0" r="2.78"/><circle cx="321.9" cy="362.3" r="2.78"/><circle cx="321.3" cy="366.3" r="2.78"/><circle cx="324.4" cy="370.3" r="2.78"/><circle cx="320.6" cy="373.5" r="2.78"/><circle cx="323.1" cy="375.0" r="2.78"/><circle cx="324.4" cy="378.5" r="2.78"/><circle cx="334.4" cy="363.1" r="2.78"/><circle cx="334.4" cy="368.1" r="2.78"/><circle cx="334.4" cy="376.3" r="2.78"/><circle cx="342.5" cy="368.1" r="2.78"/><circle cx="343.5" cy="374.4" r="2.78"/><circle cx="343.5" cy="388.1" r="2.78"/><circle cx="338.8" cy="349.4" r="2.78"/><circle cx="341.9" cy="349.4" r="2.78"/><circle cx="339.1" cy="348.7" r="2.78"/><circle cx="341.6" cy="348.7" r="2.78"/><circle cx="328.5" cy="336.3" r="2.78"/><circle cx="332.9" cy="334.4" r="2.78"/><circle cx="336.6" cy="337.5" r="2.78"/><circle cx="341.6" cy="337.5" r="2.78"/><circle cx="340.4" cy="342.5" r="2.78"/><circle cx="335.4" cy="343.1" r="2.78"/><circle cx="332.3" cy="340.6" r="2.78"/><circle cx="326.6" cy="344.4" r="2.78"/><circle cx="330.4" cy="348.8" r="2.78"/><circle cx="318.8" cy="329.4" r="2.78"/><circle cx="324.1" cy="329.4" r="2.78"/><circle cx="332.3" cy="328.1" r="2.78"/><circle cx="327.5" cy="336.3" r="2.78"/><circle cx="330.0" cy="335.0" r="2.78"/><circle cx="335.0" cy="337.5" r="2.78"/><circle cx="338.8" cy="341.3" r="2.78"/><circle cx="341.3" cy="337.5" r="2.78"/><circle cx="336.3" cy="342.5" r="2.78"/><circle cx="340.0" cy="342.5" r="2.78"/><circle cx="332.5" cy="332.5" r="2.78"/><circle cx="337.5" cy="332.5" r="2.78"/><circle cx="329.5" cy="339.5" r="2.78"/><circle cx="333.5" cy="337.5" r="2.78"/><circle cx="338.0" cy="334.0" r="2.78"/><circle cx="340.5" cy="332.2" r="2.78"/><circle cx="322.5" cy="344.5" r="2.78"/><circle cx="324.5" cy="346.5" r="2.78"/><circle cx="322.3" cy="340.0" r="2.78"/><circle cx="326.0" cy="341.5" r="2.78"/><circle cx="324.8" cy="339.3" r="2.78"/><circle cx="343.8" cy="294.3" r="2.78"/><circle cx="326.4" cy="333.2" r="2.78"/><circle cx="345.2" cy="292.4" r="2.78"/><circle cx="493.3" cy="209.4" r="2.78"/><circle cx="445.3" cy="247.2" r="2.78"/><circle cx="493.3" cy="244.4" r="2.78"/><circle cx="505.4" cy="247.2" r="2.78"/><circle cx="505.4" cy="252.4" r="2.78"/><circle cx="529.4" cy="260.3" r="2.78"/><circle cx="456.6" cy="274.2" r="2.78"/><circle cx="456.6" cy="275.6" r="2.78"/><circle cx="445.3" cy="290.3" r="2.78"/><circle cx="456.6" cy="319.4" r="2.78"/><circle cx="509.4" cy="296.3" r="2.78"/><circle cx="508.4" cy="315.4" r="2.78"/><circle cx="529.4" cy="279.4" r="2.78"/><circle cx="481.6" cy="217.2" r="2.78"/><circle cx="483.1" cy="219.5" r="2.78"/><circle cx="483.6" cy="222.7" r="2.78"/><circle cx="481.6" cy="226.6" r="2.78"/><circle cx="482.3" cy="228.9" r="2.78"/><circle cx="480.3" cy="230.5" r="2.78"/><circle cx="481.6" cy="233.1" r="2.78"/><circle cx="483.6" cy="236.7" r="2.78"/><circle cx="480.3" cy="243.4" r="2.78"/><circle cx="482.3" cy="242.2" r="2.78"/><circle cx="484.4" cy="242.5" r="2.78"/><circle cx="483.1" cy="245.3" r="2.78"/><circle cx="481.3" cy="248.1" r="2.78"/><circle cx="482.3" cy="254.4" r="2.78"/><circle cx="484.7" cy="256.3" r="2.78"/><circle cx="483.6" cy="259.3" r="2.78"/><circle cx="484.7" cy="264.2" r="2.78"/><circle cx="481.3" cy="265.5" r="2.78"/><circle cx="480.3" cy="269.6" r="2.78"/><circle cx="484.4" cy="272.2" r="2.78"/><circle cx="481.3" cy="276.1" r="2.78"/><circle cx="484.4" cy="283.4" r="2.78"/><circle cx="482.0" cy="220.8" r="2.78"/><circle cx="482.2" cy="224.6" r="2.78"/><circle cx="482.5" cy="257.7" r="2.78"/><circle cx="482.6" cy="267.4" r="2.78"/><circle cx="543.5" cy="74.4" r="2.78"/><circle cx="544.4" cy="148.5" r="2.78"/><circle cx="543.4" cy="155.5" r="2.78"/><circle cx="534.4" cy="179.4" r="2.78"/><circle cx="553.5" cy="193.4" r="2.78"/><circle cx="546.5" cy="209.4" r="2.78"/><circle cx="545.3" cy="214.4" r="2.78"/><circle cx="541.3" cy="221.3" r="2.78"/><circle cx="543.1" cy="223.1" r="2.78"/><circle cx="545.6" cy="224.0" r="2.78"/><circle cx="541.3" cy="226.5" r="2.78"/><circle cx="544.4" cy="227.1" r="2.78"/><circle cx="542.5" cy="231.3" r="2.78"/><circle cx="534.4" cy="230.3" r="2.78"/><circle cx="546.9" cy="235.3" r="2.78"/><circle cx="545.6" cy="238.1" r="2.78"/><circle cx="542.5" cy="241.3" r="2.78"/><circle cx="545.0" cy="239.6" r="2.78"/><circle cx="542.5" cy="247.5" r="2.78"/><circle cx="541.3" cy="251.5" r="2.78"/><circle cx="546.5" cy="259.4" r="2.78"/><circle cx="541.3" cy="261.5" r="2.78"/><circle cx="546.5" cy="263.1" r="2.78"/><circle cx="541.3" cy="263.5" r="2.78"/><circle cx="545.6" cy="269.4" r="2.78"/><circle cx="553.5" cy="271.3" r="2.78"/><circle cx="541.5" cy="272.5" r="2.78"/><circle cx="545.3" cy="273.5" r="2.78"/><circle cx="541.3" cy="276.5" r="2.78"/><circle cx="542.5" cy="285.3" r="2.78"/><circle cx="545.0" cy="285.6" r="2.78"/><circle cx="545.3" cy="289.0" r="2.78"/><circle cx="543.1" cy="291.3" r="2.78"/><circle cx="543.4" cy="304.4" r="2.78"/><circle cx="545.4" cy="309.4" r="2.78"/><circle cx="544.4" cy="333.5" r="2.78"/><circle cx="544.4" cy="336.3" r="2.78"/><circle cx="546.5" cy="342.5" r="2.78"/><circle cx="541.3" cy="375.3" r="2.78"/><circle cx="544.4" cy="377.3" r="2.78"/><circle cx="544.4" cy="380.3" r="2.78"/><circle cx="543.6" cy="268.6" r="2.78"/>
</g>
<rect x="80.5" y="58.5" width="496" height="369" fill="none" stroke="#000" stroke-width="1.1"/>
<g font-size="13.889px">
<text x="121.4" y="447.5" text-anchor="middle">1998</text><text x="210.9" y="447.5" text-anchor="middle">2000</text><text x="300.4" y="447.5" text-anchor="middle">2002</text><text x="389.8" y="447.5" text-anchor="middle">2004</text><text x="479.3" y="447.5" text-anchor="middle">2006</text><text x="568.7" y="447.5" text-anchor="middle">2008</text><text x="70.3" y="85.6" text-anchor="end">0.05</text><text x="71.4" y="139.2" text-anchor="end">0.04</text><text x="71.4" y="191.3" text-anchor="end">0.03</text><text x="71.3" y="244.0" text-anchor="end">0.02</text><text x="70.3" y="296.7" text-anchor="end">0.01</text><text x="71.4" y="349.6" text-anchor="end">0.00</text><text x="70.3" y="402.4" text-anchor="end">−0.01</text>
<text transform="translate(20.3,244.0) rotate(-90)" text-anchor="middle">m</text>
</g>
<text x="327.6" y="49.1" font-size="16.667px" text-anchor="middle">KYW2 N</text>
<rect x="87.5" y="65.5" width="192" height="25" rx="2.8" ry="2.8" fill="#fff" fill-opacity="0.8" stroke="#dcdcdc" stroke-width="1.2"/>
<circle cx="106.4" cy="76.5" r="2.78" fill="#ff0000"/>
<text x="135.2" y="81.2" font-size="13.889px" textLength="137.8" lengthAdjust="spacing">repro2018a (IGS14)</text>
</svg>
</body></html>
